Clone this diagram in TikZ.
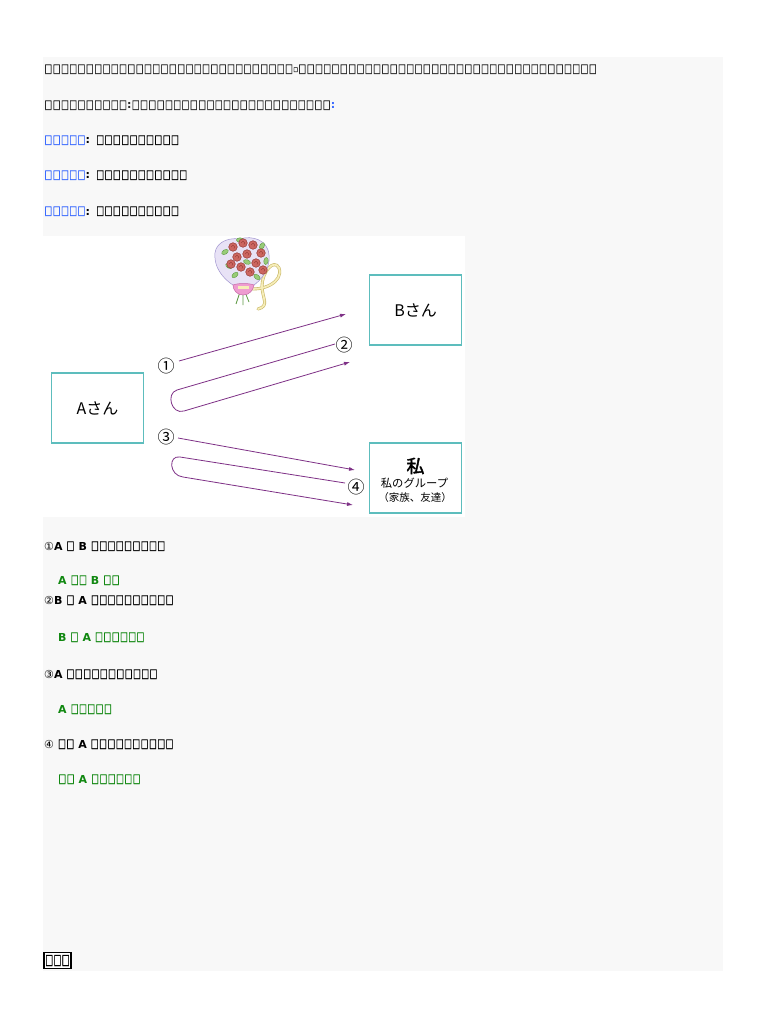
\documentclass[tikz,border=0pt]{standalone}
\usepackage{fontspec}
\usepackage{graphicx}
\setmainfont{DejaVu Sans}
\newfontfamily\jp{Noto Sans CJK JP}
\newfontfamily\jpb{Noto Sans CJK JP}[FakeBold=2]
\newfontfamily\dv{DejaVu Sans}
\newfontfamily\dvt{DejaVu Sans}[FakeBold=1.2]
\usetikzlibrary{arrows.meta}
\definecolor{panel}{HTML}{F8F8F8}
\definecolor{boxteal}{HTML}{5DBDBD}
\definecolor{arrpurple}{HTML}{7E3086}
\definecolor{lblue}{HTML}{3A6AFF}
\definecolor{lgreen}{HTML}{118811}
\definecolor{tofugray}{HTML}{2A2A2A}
\definecolor{wrapfill}{HTML}{E8E2F6}
\definecolor{wrapline}{HTML}{A094CF}
\definecolor{rosefill}{HTML}{CC6660}
\definecolor{roseline}{HTML}{963A36}
\definecolor{leaf}{HTML}{98CC78}
\definecolor{leafline}{HTML}{5E9A44}
\definecolor{ribpink}{HTML}{EE9CD0}
\definecolor{ribpinkline}{HTML}{C868A8}
\definecolor{ribcream}{HTML}{F6EDB8}
\definecolor{ribline}{HTML}{C9B868}
\newcommand\tf{\makebox[8.3pt][c]{\raisebox{-1pt}{\resizebox*{7.6pt}{9.6pt}{\raisebox{\depth}{\dvt □}}}}}
\newcommand\TT[1]{\foreach \i in {1,...,#1}{\tf}}
\newcommand\tfsmall{\makebox[5pt][c]{\raisebox{1pt}{\resizebox*{4.4pt}{4.6pt}{\raisebox{\depth}{\dvt □}}}}}
\newcommand\tfbig{\makebox[8.2pt][c]{\resizebox*{7.8pt}{11pt}{\raisebox{\depth}{\dvt □}}}}
\begin{document}
\begin{tikzpicture}[x=1pt,y=-1pt,
  txt/.style={anchor=base west, inner sep=0pt, font=\fontsize{11}{13}\selectfont},
  btxt/.style={txt, font=\fontsize{11}{13}\selectfont\bfseries},
  cbox/.style={draw=boxteal, line width=1.1pt, fill=white, minimum width=92pt, minimum height=70pt, inner sep=0pt},
  arr/.style={draw=arrpurple, line width=0.8pt, -{Latex[length=6pt,width=4pt]}},
  num/.style={inner sep=0pt, font=\fontsize{17}{17}\jp},
  rose/.style={fill=rosefill, draw=roseline, line width=0.5pt},
  leafst/.style={fill=leaf, draw=leafline, line width=0.4pt}]
\useasboundingbox (0,0) rectangle (768,1024);
\fill[white] (0,0) rectangle (768,1024);
\fill[panel] (43,57) rectangle (723,971);
% header text
\node[txt, text=tofugray] (l1) at (44,73) {\TT{30}\tfsmall\TT{36}};
\node[txt, text=tofugray] (l2) at (44,109) {\TT{10}\textbf{:}\TT{24}{\color{lblue}\textbf{:}}};
\node[txt] (l3) at (44,144) {{\color{lblue}\TT{5}}\textbf{:}\hspace{6pt}\TT{10}};
\node[txt] (l4) at (44,179) {{\color{lblue}\TT{5}}\textbf{:}\hspace{6pt}\TT{11}};
\node[txt] (l5) at (44,215) {{\color{lblue}\TT{5}}\textbf{:}\hspace{6pt}\TT{10}};
% diagram area
\fill[white] (43,236) rectangle (465,517);
\node[cbox] (A) at (97.5,408) {\fontsize{16}{16}\jp Aさん};
\node[cbox] (B) at (415.5,310) {\fontsize{16}{16}\jp Bさん};
\node[cbox] (W) at (415.5,478) {};
\node[inner sep=0pt, font=\fontsize{18}{18}\jpb] (w1) at (415.5,466) {私};
\node[inner sep=0pt, font=\fontsize{11.3}{12}\jp] (w2) at (414.5,483) {私のグループ};
\node[inner sep=0pt, font=\fontsize{10.5}{12}\jp] (w3) at (415,497.5) {（家族、友達）};
% arrows
\coordinate (a1s) at (179,361); \coordinate (a1e) at (346,314);
\coordinate (a2s) at (335,344); \coordinate (a2t) at (177,390);
\coordinate (a2b) at (184,411); \coordinate (a2e) at (350,362);
\coordinate (a3s) at (178,438); \coordinate (a3e) at (355,470);
\coordinate (a4s) at (345,483); \coordinate (a4t) at (180,457);
\coordinate (a4b) at (183,477); \coordinate (a4e) at (353,505);
\draw[arr] (a1s) -- (a1e);
\draw[arr] (a2s) -- (a2t) .. controls (165.5,393.5) and (171.5,415) .. (a2b) -- (a2e);
\draw[arr] (a3s) -- (a3e);
\draw[arr] (a4s) -- (a4t) .. controls (168,455) and (169,475.5) .. (a4b) -- (a4e);
\node[num] (n1) at (166,366) {①};
\node[num] (n2) at (344,345) {②};
\node[num] (n3) at (166,437) {③};
\node[num] (n4) at (356,487) {④};
% bouquet
\draw[ribline, line width=3pt, line cap=round] (247,288) .. controls (262,292) and (284,282) .. (279,268) .. controls (274,258) and (262,272) .. (262,286) .. controls (262,298) and (270,306) .. (258,309);
\draw[ribcream, line width=1.8pt, line cap=round] (247,288) .. controls (262,292) and (284,282) .. (279,268) .. controls (274,258) and (262,272) .. (262,286) .. controls (262,298) and (270,306) .. (258,309);
\draw[leafline, line width=0.8pt] (240,292) -- (236,304) (243,292) -- (243,305) (245,292) -- (249,302);
\filldraw[fill=wrapfill, draw=wrapline, line width=0.5pt] (244,290) .. controls (232,287) and (216,274) .. (215,258) .. controls (213,244) and (226,237) .. (240,239) .. controls (252,235) and (268,240) .. (269,255) .. controls (271,270) and (258,286) .. (244,290) -- cycle;
\foreach \lx/\ly/\la in {225/252/30, 247/262/-20, 235/275/40, 257/277/-40, 266/261/80, 240/240/0, 229/266/-30, 262/246/60} {
  \filldraw[leafst, rotate around={\la:(\lx,\ly)}] (\lx,\ly) ellipse (3.6pt and 2.2pt);
}
\foreach \rx/\ry in {233/247, 243/243, 253/245, 261/253, 237/257, 247/254, 256/263, 241/267, 250/272, 231/264, 263/270} {
  \filldraw[rose] (\rx,\ry) circle (4.3pt);
  \draw[roseline, line width=0.4pt] (\rx-1.8,\ry) arc (180:-60:1.8pt);
}
\filldraw[fill=ribpink, draw=ribpinkline, line width=0.5pt] (233,285) .. controls (238,283) and (249,283) .. (254,285) .. controls (253,290) and (250,295) .. (243,295) .. controls (237,295) and (233,290) .. (233,285) -- cycle;
\fill[ribcream] (238,286) rectangle (249,288.5);
% list
\node[btxt] (r1) at (44,550) {{\mdseries\dv ①}A \tf\ B \TT{9}};
\node[btxt, text=lgreen] (g1) at (58,584) {A \tf\tf\ B \tf\tf};
\node[btxt] (r2) at (44,604) {{\mdseries\dv ②}B \tf\ A \TT{10}};
\node[btxt, text=lgreen] (g2) at (58,641) {B \tf\ A \TT{6}};
\node[btxt] (r3) at (44,678) {{\mdseries\dv ③}A \TT{11}};
\node[btxt, text=lgreen] (g3) at (58,713) {A \TT{5}};
\node[btxt] (r4) at (44,748) {{\mdseries\dv ④} \tf\tf\ A \TT{10}};
\node[btxt, text=lgreen] (g4) at (58,783) {\tf\tf\ A \TT{6}};
% bottom button
\node[draw=black, line width=1.4pt, minimum width=27pt, minimum height=16.5pt, inner sep=0pt, fill=white] (btn) at (57.5,960.5) {\tfbig\tfbig\tfbig};
\end{tikzpicture}
\end{document}
